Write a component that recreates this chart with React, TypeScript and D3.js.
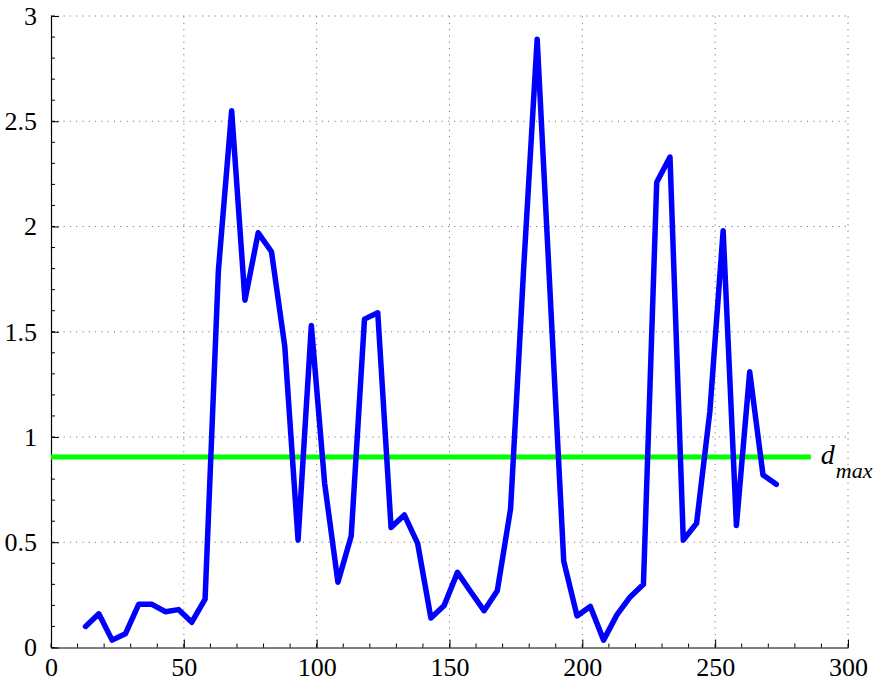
import * as d3 from 'd3';
import React, { useEffect, useRef } from 'react';

// sample positions and distance values
const xValues = [
  13, 18, 23, 28, 33, 38, 43, 48, 53, 58,
  63, 68, 73, 78, 83, 88, 93, 98, 103, 108,
  113, 118, 123, 128, 133, 138, 143, 148, 153, 158,
  163, 168, 173, 178, 183, 188, 193, 198, 203, 208,
  213, 218, 223, 228, 233, 238, 243, 248, 253, 258,
  263, 268, 273,
];
const distValues = [
  0.1, 0.16, 0.035, 0.065, 0.205, 0.205, 0.17, 0.18, 0.12, 0.23,
  1.79, 2.55, 1.65, 1.97, 1.88, 1.43, 0.51, 1.53, 0.78, 0.31,
  0.53, 1.56, 1.59, 0.57, 0.63, 0.495, 0.14, 0.2, 0.357, 0.265,
  0.175, 0.27, 0.66, 1.82, 2.89, 1.65, 0.41, 0.15, 0.195, 0.035,
  0.155, 0.24, 0.3, 2.21, 2.33, 0.51, 0.59, 1.12, 1.98, 0.58,
  1.31, 0.82, 0.775,
];
const dMax = 0.905;
const dMaxEnd = 286;
const xTicks = [0, 50, 100, 150, 200, 250, 300];
const yTicks = [0, 0.5, 1, 1.5, 2, 2.5, 3];

export default function App() {
  const ref = useRef<SVGSVGElement>(null);

  useEffect(() => {
    const width = 874;
    const height = 683;
    const margin = { top: 16, right: 26, bottom: 35.5, left: 51 };
    const font = '"Liberation Serif", serif';

    const svg = d3.select(ref.current);
    svg.selectAll('*').remove();

    const x = d3.scaleLinear().domain([0, 300]).range([margin.left, width - margin.right]);
    const y = d3.scaleLinear().domain([0, 3]).range([height - margin.bottom, margin.top]);

    // dotted grid
    const grid = svg.append('g').attr('stroke', '#666').attr('stroke-width', 1).attr('stroke-dasharray', '1 5.3');
    grid.selectAll('line.gx').data(xTicks.slice(1)).enter().append('line')
      .attr('x1', (d) => x(d)).attr('x2', (d) => x(d))
      .attr('y1', y(0)).attr('y2', y(3));
    grid.selectAll('line.gy').data(yTicks.slice(1)).enter().append('line')
      .attr('x1', x(0)).attr('x2', x(300))
      .attr('y1', (d) => y(d)).attr('y2', (d) => y(d));

    // axes
    const xAxis = svg.append('g')
      .attr('transform', `translate(0,${y(0)})`)
      .call(d3.axisBottom(x).tickValues(xTicks).tickSizeInner(-8).tickSizeOuter(0).tickPadding(10));
    const yAxis = svg.append('g')
      .attr('transform', `translate(${x(0)},0)`)
      .call(d3.axisLeft(y).tickValues(yTicks).tickFormat(d3.format('~g')).tickSizeInner(-8).tickSizeOuter(0).tickPadding(14));

    [xAxis, yAxis].forEach((ax) => {
      ax.attr('font-family', null);
      ax.select('.domain').attr('stroke', '#000').attr('stroke-width', 1.2);
      ax.selectAll('.tick line').attr('stroke', '#000');
      ax.selectAll('.tick text').style('font-family', font).style('font-size', '26px').attr('fill', '#000');
    });
    xAxis.selectAll('.tick text').attr('dy', '0.71em');

    // minor ticks
    const minor = svg.append('g').attr('stroke', '#000').attr('stroke-width', 1);
    minor.selectAll('line.mx').data(d3.range(0, 301, 10)).enter().append('line')
      .attr('x1', (d) => x(d)).attr('x2', (d) => x(d))
      .attr('y1', y(0)).attr('y2', y(0) - 4);
    minor.selectAll('line.my').data(d3.range(0, 31).map((i) => i / 10)).enter().append('line')
      .attr('x1', x(0)).attr('x2', x(0) + 4)
      .attr('y1', (d) => y(d)).attr('y2', (d) => y(d));

    // threshold line
    svg.append('line')
      .attr('x1', x(0)).attr('x2', x(dMaxEnd))
      .attr('y1', y(dMax)).attr('y2', y(dMax))
      .attr('stroke', '#00ff00').attr('stroke-width', 5);

    const label = svg.append('text')
      .attr('x', x(dMaxEnd) + 10).attr('y', y(dMax) + 7)
      .style('font-family', font).attr('font-style', 'italic').style('font-size', '28px');
    label.append('tspan').text('d');
    label.append('tspan').attr('dy', 14).style('font-size', '22px').attr('dx', 1).text('max');

    // distance curve
    const line = d3.line<number>()
      .x((d, i) => x(xValues[i]))
      .y((d) => y(d));
    svg.append('path')
      .datum(distValues)
      .attr('d', line)
      .attr('fill', 'none')
      .attr('stroke', '#0000ff')
      .attr('stroke-width', 5.5)
      .attr('stroke-linejoin', 'round')
      .attr('stroke-linecap', 'round');
  }, []);

  return (
    <svg ref={ref} width={874} height={683}
      style={{ position: 'absolute', left: 0, top: 0, background: '#fff' }} />
  );
}
